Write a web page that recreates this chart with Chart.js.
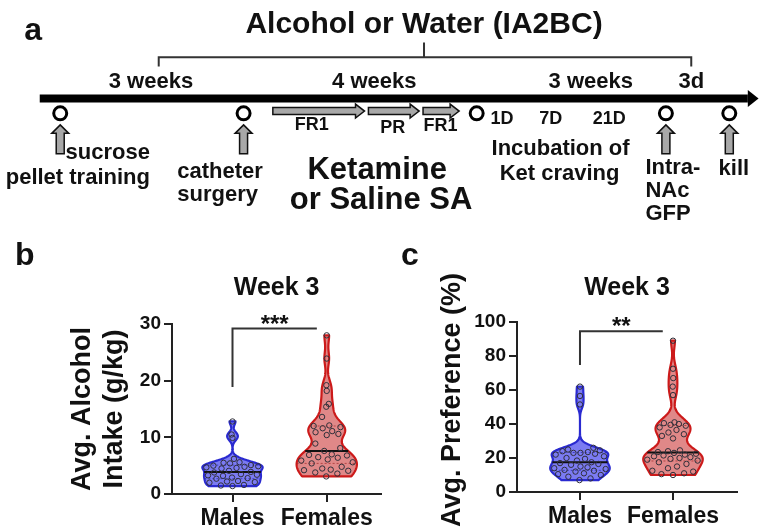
<!DOCTYPE html>
<html>
<head>
<meta charset="utf-8">
<script src="https://cdn.jsdelivr.net/npm/chart.js@4.4.1/dist/chart.umd.min.js"></script>
<style>
html,body{margin:0;padding:0;background:#fff;}
#wrap{position:relative;width:770px;height:532px;overflow:hidden;background:#fff;}
canvas{position:absolute;}
</style>
</head>
<body>
<div id="wrap">
  <canvas id="tl" width="770" height="235" style="left:0;top:0;"></canvas>
  <canvas id="pb" width="385" height="297" style="left:0;top:235px;"></canvas>
  <canvas id="pc" width="385" height="297" style="left:385px;top:235px;"></canvas>
</div>
<script>
// ---------------- DATA ----------------
const groups = ['Males', 'Females'];
const panelTitle = 'Week 3';

const alcoholMales = [12.8, 10.5, 9.9, 6.2, 5.6, 5.5, 5.4, 5.1, 5.0, 4.9, 4.8, 4.7, 4.6, 4.5, 4.1, 3.9, 3.8, 3.5, 3.4, 3.3, 3.2, 2.9, 2.8, 2.7, 2.3, 2.2, 2.1, 2.0, 1.6, 1.5, 1.4];
const alcoholFemales = [28.0, 23.9, 19.2, 18.2, 15.9, 15.4, 13.6, 12.1, 12.0, 11.8, 11.6, 11.1, 10.9, 10.6, 10.4, 8.9, 8.1, 7.6, 7.0, 6.9, 6.8, 6.5, 6.4, 6.1, 5.9, 5.6, 5.4, 4.8, 4.5, 4.3, 4.2, 4.1, 3.8, 3.6, 3.1];
const alcoholTicks = [0, 10, 20, 30];
const alcoholAxisTitle = ['Avg. Alcohol', 'Intake (g/kg)'];
const alcoholSignificance = '***';

const prefMales = [62, 56.5, 51.5, 26, 25, 24.5, 24, 23.5, 23, 23, 22.5, 22, 21, 20, 19.5, 18.5, 17.5, 17, 16.5, 16, 15, 14.5, 14, 13.5, 13, 12.5, 12, 11, 10.5, 10, 9, 8, 7];
const prefFemales = [89, 72.5, 67, 62, 57, 41, 40.5, 40, 39.5, 39, 38, 36.5, 35, 34, 33, 31.5, 24.5, 24, 23.5, 23, 22.5, 22, 21.5, 21, 20.5, 20, 19.5, 19, 18.5, 17.5, 16.5, 15, 14, 12.5, 12, 11, 10.5, 10];
const prefTicks = [0, 20, 40, 60, 80, 100];
const prefAxisTitle = 'Avg. Preference (%)';
const prefSignificance = '**';

// timeline (schematic, positions in timeline units)
const timelineTitle = 'Alcohol or Water (IA2BC)';
const phaseLabels = ['3 weeks', '4 weeks', '3 weeks', '3d'];
const phaseCenters = [145, 374, 596, 699];
const eventPositions = [52, 240, 479, 673, 738];
const eventHasArrow = [true, true, false, true, true];
const saLabels = ['FR1', 'PR', 'FR1'];
const saStarts = [270, 368, 424];
const saEnds = [364, 420, 461];
const dayLabels = ['1D', '7D', '21D'];
const dayPositions = [505, 555, 615];

// ---------------- SETUP ----------------
const FONT = "'Liberation Sans', Arial, Helvetica, sans-serif";
Chart.defaults.font.family = FONT;
Chart.defaults.font.weight = 'bold';
Chart.defaults.color = '#111';

function font(size) { return 'bold ' + size + 'px ' + FONT; }

// ---------------- TIMELINE ----------------
const tlTexts = [
  {t: 'a', x: 15, y: 33, s: 32, a: 'left'},
  {t: timelineTitle, x: 425, y: 26, s: 30, a: 'center'},
  ...phaseLabels.map((t, i) => ({t, x: phaseCenters[i], y: 85, s: 22, a: 'center'})),
  {t: saLabels[0], x: 310, y: 131, s: 18, a: 'center'},
  {t: saLabels[1], x: 393, y: 134, s: 18, a: 'center'},
  {t: saLabels[2], x: 442, y: 132, s: 18, a: 'center'},
  ...dayLabels.map((t, i) => ({t, x: dayPositions[i], y: 125, s: 18, a: 'center'})),
  {t: 'sucrose', x: 144, y: 163, s: 22, a: 'right'},
  {t: 'pellet training', x: 144, y: 190, s: 22, a: 'right'},
  {t: 'catheter', x: 172, y: 183, s: 22, a: 'left'},
  {t: 'surgery', x: 172, y: 208, s: 22, a: 'left'},
  {t: 'Ketamine', x: 377, y: 184, s: 31, a: 'center'},
  {t: 'or Saline SA', x: 381, y: 217, s: 31, a: 'center'},
  {t: 'Incubation of', x: 565, y: 158, s: 22, a: 'center'},
  {t: 'Ket craving', x: 564, y: 185, s: 22, a: 'center'},
  {t: 'Intra-', x: 652, y: 179, s: 22, a: 'left'},
  {t: 'NAc', x: 652, y: 204, s: 22, a: 'left'},
  {t: 'GFP', x: 652, y: 229, s: 22, a: 'left'},
  {t: 'kill', x: 727, y: 180, s: 22, a: 'left'}
];
const tlBracket = {from: 153, to: 699, mid: 425, y: 52, legs: 62, top: 36};
const tlAxis = {from: 31, to: 757, tip: 768, y: 96.7};
const eventY = 113, upTip = 125.5, upBottom = 157, saY = 110.5;

const timelinePlugin = {
  id: 'timelineDiagram',
  afterDatasetsDraw(chart) {
    const {ctx} = chart;
    const xs = chart.scales.x, ys = chart.scales.y;
    const X = v => xs.getPixelForValue(v), Y = v => ys.getPixelForValue(v);
    ctx.save();
    // bracket
    ctx.strokeStyle = '#333'; ctx.lineWidth = 2; ctx.lineCap = 'butt';
    ctx.beginPath();
    ctx.moveTo(X(tlBracket.from), Y(tlBracket.legs));
    ctx.lineTo(X(tlBracket.from), Y(tlBracket.y));
    ctx.lineTo(X(tlBracket.to), Y(tlBracket.y));
    ctx.lineTo(X(tlBracket.to), Y(tlBracket.legs));
    ctx.moveTo(X(tlBracket.mid), Y(tlBracket.y));
    ctx.lineTo(X(tlBracket.mid), Y(tlBracket.top));
    ctx.stroke();
    // arrow head of main axis
    ctx.fillStyle = '#000';
    ctx.beginPath();
    ctx.moveTo(X(tlAxis.to), Y(tlAxis.y) - 8.5);
    ctx.lineTo(X(tlAxis.tip), Y(tlAxis.y));
    ctx.lineTo(X(tlAxis.to), Y(tlAxis.y) + 8.5);
    ctx.closePath(); ctx.fill();
    // up arrows
    ctx.fillStyle = '#a8a8a8'; ctx.strokeStyle = '#111'; ctx.lineWidth = 1.5; ctx.lineJoin = 'miter';
    eventPositions.forEach((p, i) => {
      if (!eventHasArrow[i]) return;
      const x = X(p), t = Y(upTip), b = Y(upBottom);
      ctx.beginPath();
      ctx.moveTo(x, t);
      ctx.lineTo(x + 8.5, t + 8.5);
      ctx.lineTo(x + 4, t + 8.5);
      ctx.lineTo(x + 4, b);
      ctx.lineTo(x - 4, b);
      ctx.lineTo(x - 4, t + 8.5);
      ctx.lineTo(x - 8.5, t + 8.5);
      ctx.closePath(); ctx.fill(); ctx.stroke();
    });
    // right arrows (self-administration phases)
    saStarts.forEach((s, i) => {
      const x0 = X(s), x1 = X(saEnds[i]), y = Y(saY);
      const hl = 9;
      ctx.beginPath();
      ctx.moveTo(x0, y - 3.5);
      ctx.lineTo(x1 - hl, y - 3.5);
      ctx.lineTo(x1 - hl, y - 7);
      ctx.lineTo(x1, y);
      ctx.lineTo(x1 - hl, y + 7);
      ctx.lineTo(x1 - hl, y + 3.5);
      ctx.lineTo(x0, y + 3.5);
      ctx.closePath(); ctx.fill(); ctx.stroke();
    });
    // texts
    ctx.fillStyle = '#111'; ctx.textBaseline = 'alphabetic';
    tlTexts.forEach(o => {
      ctx.font = font(o.s); ctx.textAlign = o.a;
      ctx.fillText(o.t, X(o.x), Y(o.y));
    });
    ctx.restore();
  }
};

new Chart(document.getElementById('tl'), {
  type: 'scatter',
  data: {
    datasets: [
      {label: 'Events', data: eventPositions.map(p => ({x: p, y: eventY})),
       pointRadius: 6.5, pointBorderWidth: 3, pointBorderColor: '#000', pointBackgroundColor: '#fff', showLine: false},
      {label: 'Timeline', data: [{x: tlAxis.from, y: tlAxis.y}, {x: tlAxis.to, y: tlAxis.y}],
       showLine: true, borderColor: '#000', borderWidth: 8, pointRadius: 0, borderCapStyle: 'butt'}
    ]
  },
  options: {
    responsive: false, animation: false, devicePixelRatio: 1, events: [],
    layout: {padding: 0},
    plugins: {legend: {display: false}, tooltip: {enabled: false}},
    scales: {
      x: {type: 'linear', min: 0, max: 770, display: false},
      y: {type: 'linear', min: 0, max: 235, reverse: true, display: false}
    }
  },
  plugins: [timelinePlugin]
});

// ---------------- VIOLIN PANELS ----------------
function quantile(sorted, p) {
  const n = sorted.length;
  let pos = (n + 1) * p - 1;
  pos = Math.max(0, Math.min(n - 1, pos));
  const lo = Math.floor(pos), hi = Math.ceil(pos);
  return sorted[lo] + (sorted[hi] - sorted[lo]) * (pos - lo);
}
function silverman(sorted) {
  const n = sorted.length;
  const mean = sorted.reduce((a, b) => a + b, 0) / n;
  const sd = Math.sqrt(sorted.reduce((a, b) => a + (b - mean) * (b - mean), 0) / (n - 1));
  const iqr = quantile(sorted, 0.75) - quantile(sorted, 0.25);
  return 0.9 * Math.min(sd, iqr / 1.34) * Math.pow(n, -0.2);
}
function violinGeometry(chart, values, i, bwFactor, widthFrac) {
  const xs = chart.scales.x, ys = chart.scales.y;
  const sorted = [...values].sort((a, b) => a - b);
  const lo = sorted[0], hi = sorted[sorted.length - 1];
  const h = silverman(sorted) * bwFactor;
  const N = 160;
  const dens = [];
  let dmax = 0;
  for (let k = 0; k <= N; k++) {
    const v = lo + (hi - lo) * k / N;
    let s = 0;
    for (const d of sorted) {
      const z = (v - d) / h; s += Math.exp(-0.5 * z * z);
      const zr = (v - (2 * lo - d)) / h; s += 0.5 * Math.exp(-0.5 * zr * zr); // partial reflection at lower bound
    }
    dens.push({v, d: s});
    if (s > dmax) dmax = s;
  }
  const unitPx = Math.abs(xs.getPixelForValue(1) - xs.getPixelForValue(0));
  const maxHalf = widthFrac * unitPx;
  const cx = xs.getPixelForValue(i);
  const halfAt = v => {
    const t = (v - lo) / (hi - lo) * N;
    const k = Math.max(0, Math.min(N - 1, Math.floor(t)));
    const f = Math.max(0, Math.min(1, t - k));
    const d = dens[k].d + (dens[k + 1].d - dens[k].d) * f;
    return d / dmax * maxHalf;
  };
  const right = dens.map(o => [cx + o.d / dmax * maxHalf, ys.getPixelForValue(o.v)]);
  const left = dens.map(o => [cx - o.d / dmax * maxHalf, ys.getPixelForValue(o.v)]);
  return {cx, right, left, halfAt, sorted,
    q1: quantile(sorted, 0.25), med: quantile(sorted, 0.5), q3: quantile(sorted, 0.75)};
}

function makeViolinPlugin(cfg) {
  return {
    id: 'violinPanel',
    beforeDatasetsDraw(chart) {
      const {ctx} = chart;
      const ys = chart.scales.y;
      cfg.series.forEach((s, i) => {
        const g = violinGeometry(chart, s.values, i, cfg.bw[i], cfg.widthFrac);
        ctx.save();
        ctx.beginPath();
        g.right.forEach((p, k) => k ? ctx.lineTo(p[0], p[1]) : ctx.moveTo(p[0], p[1]));
        for (let k = g.left.length - 1; k >= 0; k--) ctx.lineTo(g.left[k][0], g.left[k][1]);
        ctx.closePath();
        ctx.fillStyle = s.fill; ctx.fill();
        ctx.lineWidth = 2.2; ctx.strokeStyle = s.stroke; ctx.lineJoin = 'round'; ctx.stroke();
        // quartiles (dotted)
        ctx.setLineDash([2, 2]); ctx.lineWidth = 1; ctx.strokeStyle = s.quart;
        [g.q1, g.q3].forEach(q => {
          const w = g.halfAt(q), y = ys.getPixelForValue(q);
          ctx.beginPath(); ctx.moveTo(g.cx - w, y); ctx.lineTo(g.cx + w, y); ctx.stroke();
        });
        ctx.setLineDash([]);
        // median
        const wm = g.halfAt(g.med), ym = ys.getPixelForValue(g.med);
        ctx.lineWidth = 2; ctx.strokeStyle = '#111';
        ctx.beginPath(); ctx.moveTo(g.cx - wm, ym); ctx.lineTo(g.cx + wm, ym); ctx.stroke();
        ctx.restore();
      });
    },
    afterDraw(chart) {
      const {ctx, chartArea} = chart;
      const xs = chart.scales.x, ys = chart.scales.y;
      ctx.save();
      // significance bracket
      const sg = cfg.sig;
      const x0 = xs.getPixelForValue(sg.from), x1 = xs.getPixelForValue(sg.to);
      const yl = ys.getPixelForValue(sg.low), yh = ys.getPixelForValue(sg.high);
      ctx.strokeStyle = '#333'; ctx.lineWidth = 2;
      ctx.beginPath(); ctx.moveTo(x0, yl); ctx.lineTo(x0, yh); ctx.lineTo(x1, yh); ctx.stroke();
      ctx.fillStyle = '#111'; ctx.font = font(24); ctx.textAlign = 'center'; ctx.textBaseline = 'alphabetic';
      ctx.fillText(sg.label, (x0 + x1) / 2, yh + 3);
      // panel title
      ctx.font = font(25);
      ctx.fillText(panelTitle, (chartArea.left + chartArea.right) / 2, cfg.titleBaseline);
      // panel letter
      ctx.font = font(32); ctx.textAlign = 'left';
      ctx.fillText(cfg.letter, cfg.letterX, 30);
      // manually placed axis title (when not drawn by the scale)
      if (cfg.manualTitle) {
        ctx.translate(cfg.manualTitle.x, cfg.manualTitle.y);
        ctx.rotate(-Math.PI / 2);
        ctx.font = font(27); ctx.textAlign = 'center'; ctx.textBaseline = 'middle';
        ctx.fillText(cfg.yTitle, 0, 0);
      }
      ctx.restore();
    }
  };
}

function makePanel(cfg) {
  const axisGrid = {drawOnChartArea: false, drawTicks: true, tickLength: 8, color: '#222', lineWidth: 2};
  const axisBorder = {display: true, color: '#222', width: 2};
  const chart = new Chart(document.getElementById(cfg.canvas), {
    type: 'scatter',
    data: {
      datasets: cfg.series.map((s, i) => ({
        label: groups[i],
        data: s.values.map(v => ({x: i, y: v})),
        pointRadius: 2.7, pointBorderWidth: 1, pointBorderColor: '#30303a',
        pointBackgroundColor: 'rgba(0,0,0,0)', pointHoverRadius: 2.7, showLine: false
      }))
    },
    options: {
      responsive: false, animation: false, devicePixelRatio: 1, events: [],
      layout: {padding: {top: cfg.padTop, right: cfg.padRight, left: 0, bottom: 0}},
      plugins: {legend: {display: false}, tooltip: {enabled: false}, title: {display: false}},
      scales: {
        x: {
          type: 'linear', min: cfg.xMin, max: cfg.xMax,
          afterBuildTicks: sc => { sc.ticks = groups.map((g, i) => ({value: i})); },
          afterFit: sc => { sc.height = cfg.xHeight; },
          ticks: {callback: v => groups[v] !== undefined ? groups[v] : '', font: {size: 23, weight: 'bold'}, color: '#111', padding: 3, autoSkip: false, maxRotation: 0},
          grid: axisGrid, border: axisBorder
        },
        y: {
          type: 'linear', min: 0, max: cfg.yMax,
          afterBuildTicks: sc => { sc.ticks = cfg.ticks.map(v => ({value: v})); },
          afterFit: sc => { sc.width = cfg.yWidth; },
          ticks: {font: {size: 19, weight: 'bold'}, color: '#111', padding: 3},
          grid: axisGrid, border: axisBorder,
          title: {display: !cfg.manualTitle, text: cfg.yTitle, color: '#111',
                  font: {size: 27, weight: 'bold', lineHeight: 1.185},
                  padding: {top: cfg.titlePad, bottom: 0}}
        }
      }
    },
    plugins: [makeViolinPlugin(cfg)]
  });
  // spread points inside each violin using the laid-out scales (max-min distance placement)
  const xs = chart.scales.x, ys = chart.scales.y;
  cfg.series.forEach((s, i) => {
    const g = violinGeometry(chart, s.values, i, cfg.bw[i], cfg.widthFrac);
    const order = s.values.map((v, k) => ({v, k})).sort((a, b) => a.v - b.v);
    const placed = [];
    const out = new Array(s.values.length);
    order.forEach(o => {
      const py = ys.getPixelForValue(o.v);
      const lim = Math.max(0, g.halfAt(o.v) - 4);
      const steps = Math.max(1, Math.round(lim * 2));
      let best = 0, bestScore = -Infinity;
      for (let j = 0; j <= steps; j++) {
        const dx = lim === 0 ? 0 : -lim + 2 * lim * j / steps;
        let minD = 1e9;
        for (const p of placed) {
          if (Math.abs(p.py - py) > 30) continue;
          const d = Math.hypot(dx - p.dx, py - p.py);
          if (d < minD) minD = d;
        }
        const score = Math.min(minD, 11) - Math.abs(dx) * 0.01;
        if (score > bestScore) { bestScore = score; best = dx; }
      }
      placed.push({dx: best, py});
      out[o.k] = {x: xs.getValueForPixel(g.cx + best), y: o.v};
    });
    chart.data.datasets[i].data = out;
  });
  chart.update('none');
  return chart;
}

const maleColors = {fill: '#7b7bf2', stroke: '#2a2ad0', quart: 'rgba(40,40,160,0.7)'};
const femaleColors = {fill: '#e08888', stroke: '#cc1a1a', quart: 'rgba(160,40,40,0.7)'};

makePanel({
  canvas: 'pb',
  series: [Object.assign({values: alcoholMales}, maleColors), Object.assign({values: alcoholFemales}, femaleColors)],
  yMax: 30, ticks: alcoholTicks, yTitle: alcoholAxisTitle, titlePad: 67,
  xMin: -0.642, xMax: 1.579, padTop: 89, padRight: 2, yWidth: 172, xHeight: 38,
  sig: {from: 0, to: 0.895, low: 18.9, high: 29.2, label: alcoholSignificance},
  letter: 'b', letterX: 15, titleBaseline: 60, bw: [0.8, 0.65], widthFrac: 0.32
});
makePanel({
  canvas: 'pc',
  series: [Object.assign({values: prefMales}, maleColors), Object.assign({values: prefFemales}, femaleColors)],
  yMax: 100, ticks: prefTicks, yTitle: prefAxisTitle, titlePad: 52,
  manualTitle: {x: 68, y: 165},
  xMin: -0.677, xMax: 1.688, padTop: 87, padRight: 33, yWidth: 132, xHeight: 40,
  sig: {from: 0, to: 0.89, low: 74.7, high: 94.6, label: prefSignificance},
  letter: 'c', letterX: 16, titleBaseline: 60, bw: [0.8, 0.7], widthFrac: 0.32
});
</script>
</body>
</html>
